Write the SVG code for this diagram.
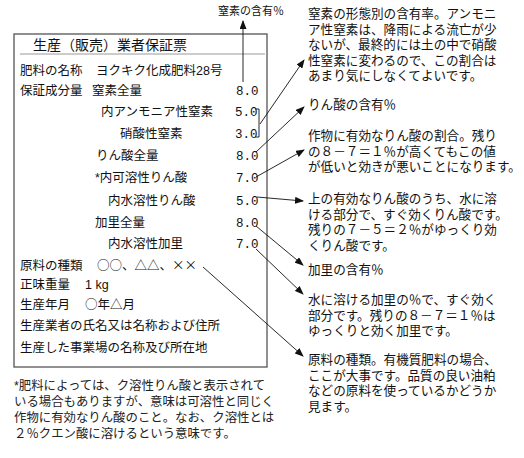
<svg xmlns="http://www.w3.org/2000/svg" width="524" height="458" viewBox="0 0 524 458">
<style>
text{font-family:"Liberation Sans","Noto Sans CJK JP",sans-serif;fill:#111}
.b{font-size:12.5px}
.j{font-family:"Noto Sans CJK JP","Liberation Sans",sans-serif}
.t{font-size:14px}
.n{font-family:"Liberation Mono","DejaVu Sans Mono",monospace;font-size:12.5px}
.r{font-size:12.6px}
.s{font-size:11px}
.f{font-size:12.4px;fill:#222}
.c{stroke:#111;stroke-width:0.9;fill:none}
</style>
<defs>
<marker id="ah" markerWidth="9" markerHeight="7" refX="8" refY="3.5" orient="auto" markerUnits="userSpaceOnUse">
<path d="M0,0 L9,3.5 L0,7 Z" fill="#111"/>
</marker>
</defs>
<rect width="524" height="458" fill="#fff"/>
<g id="card">
<rect x="14" y="34" width="253" height="333" fill="none" stroke="#555" stroke-width="1.3"/>
<line x1="20" y1="54" x2="265" y2="54" stroke="#999" stroke-width="1"/>
<text class="t" x="33" y="50">生産（販売）業者保証票</text>
</g>
<g id="name"><text class="b" x="20" y="75">肥料の名称</text><text class="b" x="96" y="75">ヨクキク化成肥料28号</text></g>
<g id="n-total"><text class="b" x="20" y="95">保証成分量</text><text class="b" x="92" y="95">窒素全量</text><text class="n" x="236" y="95">8.0</text></g>
<g id="n-ammonia"><text class="b" x="101" y="116">内アンモニア性窒素</text><text class="n" x="235" y="116">5.0</text></g>
<g id="n-nitrate"><text class="b" x="120" y="138">硝酸性窒素</text><text class="n" x="235" y="138">3.0</text></g>
<g id="p-total"><text class="b" x="96" y="160">りん酸全量</text><text class="n" x="236" y="160">8.0</text></g>
<g id="p-soluble"><text class="b" x="95" y="182">*内可溶性りん酸</text><text class="n" x="236" y="182">7.0</text></g>
<g id="p-water"><text class="b" x="108" y="205">内水溶性りん酸</text><text class="n" x="236" y="205">5.0</text></g>
<g id="k-total"><text class="b" x="95" y="227">加里全量</text><text class="n" x="236" y="227">8.0</text></g>
<g id="k-water"><text class="b" x="108" y="248">内水溶性加里</text><text class="n" x="236" y="248">7.0</text></g>
<g id="material"><text class="b" x="20" y="270">原料の種類</text><text class="b j" x="97" y="270">○○、△△、××</text></g>
<g id="weight"><text class="b" x="20" y="289">正味重量</text><text class="b" x="85" y="289">1 kg</text></g>
<g id="date"><text class="b" x="20" y="309">生産年月</text><text class="b j" x="85" y="309">○年△月</text></g>
<g id="maker"><text class="b" x="20" y="330">生産業者の氏名又は名称および住所</text></g>
<g id="site"><text class="b" x="20" y="352">生産した事業場の名称及び所在地</text></g>

<g id="footnote">
<text class="f" x="14" y="390">*肥料によっては、ク溶性りん酸と表示されて</text>
<text class="f" x="14" y="406">いる場合もありますが、意味は可溶性と同じく</text>
<text class="f" x="14" y="422">作物に有効なりん酸のこと。なお、ク溶性とは</text>
<text class="f" x="14" y="438">２％クエン酸に溶けるという意味です。</text>
</g>

<g id="note-n"><text class="s" x="218" y="15">窒素の含有％</text></g>
<g id="note-nform">
<text class="r" x="308" y="18">窒素の形態別の含有率。アンモニ</text>
<text class="r" x="308" y="33.5">ア性窒素は、降雨による流亡が少</text>
<text class="r" x="308" y="49">ないが、最終的には土の中で硝酸</text>
<text class="r" x="308" y="64.5">性窒素に変わるので、この割合は</text>
<text class="r" x="308" y="80">あまり気にしなくてよいです。</text>
</g>
<g id="note-p"><text class="r" x="308" y="109">りん酸の含有％</text></g>
<g id="note-psol">
<text class="r" x="308" y="140">作物に有効なりん酸の割合。残り</text>
<text class="r" x="308" y="155.5">の８－７＝１％が高くてもこの値</text>
<text class="r" x="308" y="171">が低いと効きが悪いことになります。</text>
</g>
<g id="note-pwater">
<text class="r" x="308" y="203">上の有効なりん酸のうち、水に溶</text>
<text class="r" x="308" y="218.5">ける部分で、すぐ効くりん酸です。</text>
<text class="r" x="308" y="234">残りの７－５＝２％がゆっくり効</text>
<text class="r" x="308" y="249.5">くりん酸です。</text>
</g>
<g id="note-k"><text class="r" x="308" y="274">加里の含有％</text></g>
<g id="note-kwater">
<text class="r" x="308" y="304">水に溶ける加里の％で、すぐ効く</text>
<text class="r" x="308" y="319.5">部分です。残りの８－７＝１％は</text>
<text class="r" x="308" y="335">ゆっくりと効く加里です。</text>
</g>
<g id="note-material">
<text class="r" x="308" y="364">原料の種類。有機質肥料の場合、</text>
<text class="r" x="308" y="379.5">ここが大事です。品質の良い油粕</text>
<text class="r" x="308" y="395">などの原料を使っているかどうか</text>
<text class="r" x="308" y="410.5">見ます。</text>
</g>

<g id="connectors">
<path class="c" d="M255,109 H259 V137 H255"/>
<line class="c" x1="243" y1="82" x2="243" y2="21" marker-end="url(#ah)"/>
<line class="c" x1="260" y1="124" x2="304" y2="60" marker-end="url(#ah)"/>
<line class="c" x1="256" y1="152" x2="304" y2="107" marker-end="url(#ah)"/>
<line class="c" x1="256" y1="177" x2="304" y2="150" marker-end="url(#ah)"/>
<line class="c" x1="257" y1="197" x2="303" y2="201" marker-end="url(#ah)"/>
<line class="c" x1="256" y1="226" x2="303" y2="265" marker-end="url(#ah)"/>
<line class="c" x1="256" y1="249" x2="303" y2="294" marker-end="url(#ah)"/>
<line class="c" x1="203" y1="267" x2="303" y2="356" marker-end="url(#ah)"/>
</g>
</svg>
